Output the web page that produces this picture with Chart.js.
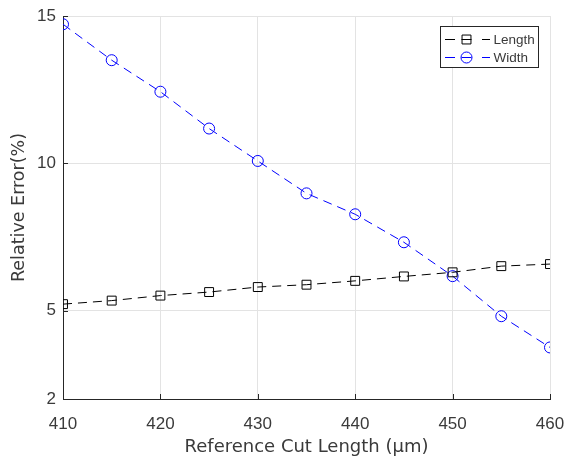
<!DOCTYPE html>
<html>
<head>
<meta charset="utf-8">
<script src="https://cdn.jsdelivr.net/npm/chart.js@4"></script>
<style>
html,body{margin:0;padding:0;background:#fff;}
#wrap{width:576px;height:460px;}
</style>
</head>
<body>
<div id="wrap"><canvas id="c" width="576" height="460"></canvas></div>
<script>
const xValues = [410, 415, 420, 425, 430, 435, 440, 445, 450, 455, 460];
const lengthErr = [5.22, 5.34, 5.51, 5.63, 5.80, 5.88, 6.01, 6.16, 6.30, 6.51, 6.58];
const widthErr = [14.72, 13.50, 12.43, 11.18, 10.08, 8.98, 8.27, 7.32, 6.17, 4.81, 3.75];
const yTicks = [2, 5, 10, 15];
const xTicks = [410, 420, 430, 440, 450, 460];
const seriesNames = ['Length', 'Width'];

const FONT = '"Liberation Sans", Arial, sans-serif';
const TITLE_FONT = '"DejaVu Sans", sans-serif';
const AXIS_COLOR = '#262626';
const TEXT_COLOR = '#3a3a3a';
const GRID_COLOR = '#e3e3e3';
const DASH = [9, 6];

const inwardTicks = {
  id: 'inwardTicks',
  afterDraw(chart) {
    const ctx = chart.ctx, xs = chart.scales.x, ys = chart.scales.y;
    ctx.save();
    ctx.strokeStyle = AXIS_COLOR;
    ctx.lineWidth = 1;
    ctx.beginPath();
    xTicks.forEach(v => {
      const px = Math.round(xs.getPixelForValue(v)) + 0.5;
      ctx.moveTo(px, ys.bottom);
      ctx.lineTo(px, ys.bottom - 5);
    });
    yTicks.forEach(v => {
      const py = Math.round(ys.getPixelForValue(v)) + 0.5;
      ctx.moveTo(xs.left, py);
      ctx.lineTo(xs.left + 5, py);
    });
    ctx.stroke();
    ctx.restore();
  }
};

const customLegend = {
  id: 'customLegend',
  afterDraw(chart) {
    const ctx = chart.ctx;
    const bx = 440.5, by = 26.5, bw = 98, bh = 41;
    ctx.save();
    ctx.fillStyle = '#fff';
    ctx.fillRect(bx, by, bw, bh);
    ctx.strokeStyle = AXIS_COLOR;
    ctx.lineWidth = 1;
    ctx.setLineDash([]);
    ctx.strokeRect(bx, by, bw, bh);
    chart.data.datasets.forEach((ds, i) => {
      const cy = Math.round(by + 12 + i * 18) + 0.5;
      const mx = bx + 26;
      ctx.strokeStyle = ds.borderColor;
      ctx.lineWidth = 1;
      ctx.setLineDash([]);
      ctx.beginPath();
      ctx.moveTo(bx + 4.5, cy); ctx.lineTo(bx + 14.5, cy);
      ctx.moveTo(mx - 5, cy); ctx.lineTo(mx + 5, cy);
      ctx.moveTo(bx + 41.5, cy); ctx.lineTo(bx + 49.5, cy);
      ctx.stroke();
      ctx.fillStyle = 'rgba(0,0,0,0)';
      ctx.strokeStyle = ds.borderColor;
      Chart.helpers.drawPoint(ctx, {pointStyle: ds.pointStyle, radius: ds.pointRadius, rotation: 0, borderWidth: 1}, mx, cy);
      ctx.fillStyle = TEXT_COLOR;
      ctx.font = '13.5px ' + FONT;
      ctx.textBaseline = 'middle';
      ctx.textAlign = 'left';
      ctx.fillText(ds.label, bx + 53, cy + 1);
    });
    ctx.restore();
  }
};

const points = arr => xValues.map((x, i) => ({x: x, y: arr[i]}));

new Chart(document.getElementById('c'), {
  type: 'scatter',
  data: {
    datasets: [
      {
        label: seriesNames[0],
        data: points(lengthErr),
        showLine: true,
        borderColor: '#000000',
        backgroundColor: 'rgba(0,0,0,0)',
        borderWidth: 1,
        borderDash: DASH,
        pointStyle: 'rect',
        pointRadius: 6.3,
        pointBorderWidth: 1,
        pointBorderColor: '#000000',
        pointBackgroundColor: 'rgba(0,0,0,0)'
      },
      {
        label: seriesNames[1],
        data: points(widthErr),
        showLine: true,
        borderColor: '#0000ff',
        backgroundColor: 'rgba(0,0,0,0)',
        borderWidth: 1,
        borderDash: DASH,
        pointStyle: 'circle',
        pointRadius: 5.5,
        pointBorderWidth: 1,
        pointBorderColor: '#0000ff',
        pointBackgroundColor: 'rgba(0,0,0,0)'
      }
    ]
  },
  options: {
    responsive: false,
    animation: false,
    layout: {padding: {left: 0, top: 16, right: 26, bottom: 0}},
    plugins: {legend: {display: false}, tooltip: {enabled: false}},
    scales: {
      x: {
        type: 'linear', min: 410, max: 460,
        afterBuildTicks: s => { s.ticks = xTicks.map(v => ({value: v})); },
        afterFit: s => { s.height = 61; s.paddingLeft = 0; s.paddingRight = 0; },
        grid: {color: GRID_COLOR, drawTicks: false},
        border: {display: true, color: AXIS_COLOR, width: 1},
        ticks: {color: TEXT_COLOR, font: {family: FONT, size: 17}, padding: 15, maxRotation: 0},
        title: {display: true, text: 'Reference Cut Length (μm)', color: TEXT_COLOR, font: {family: TITLE_FONT, size: 18}, padding: {top: 0, bottom: 2}}
      },
      y: {
        type: 'linear', min: 2, max: 15,
        afterBuildTicks: s => { s.ticks = yTicks.map(v => ({value: v})); },
        afterFit: s => { s.width = 63; s.paddingTop = 0; s.paddingBottom = 0; },
        grid: {color: GRID_COLOR, drawTicks: false},
        border: {display: true, color: AXIS_COLOR, width: 1},
        ticks: {color: TEXT_COLOR, font: {family: FONT, size: 17}, padding: 7},
        title: {display: true, text: 'Relative Error(%)', color: TEXT_COLOR, font: {family: TITLE_FONT, size: 17.5}, padding: {top: 9, bottom: 0}}
      }
    }
  },
  plugins: [inwardTicks, customLegend]
});
</script>
</body>
</html>
